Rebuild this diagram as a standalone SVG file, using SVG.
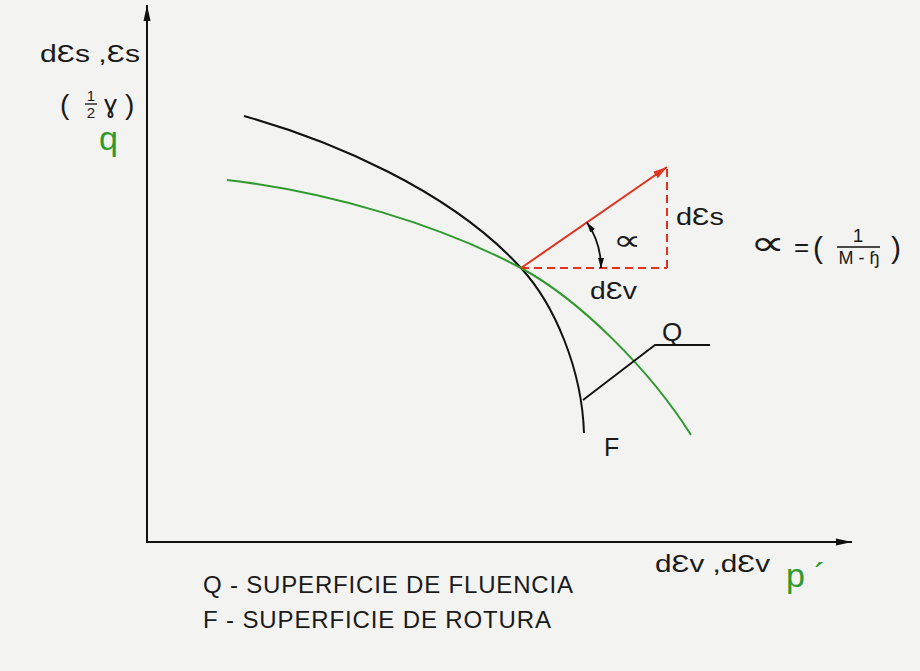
<svg xmlns="http://www.w3.org/2000/svg" width="920" height="671" viewBox="0 0 920 671">
<style>
text{font-family:"Liberation Sans",Arial,sans-serif;fill:#1a1a1a}
.g{fill:#2e9a2e}
.dj{font-family:"DejaVu Sans",sans-serif}
.ax{stroke:#111;stroke-width:2;fill:none}
.crv{fill:none;stroke-width:2}
.red{stroke:#e0321e;stroke-width:2;fill:none}
</style>
<defs>
<marker id="axh" viewBox="0 0 16 8" refX="16" refY="4" markerWidth="16" markerHeight="8" markerUnits="userSpaceOnUse" orient="auto">
<path d="M0,0.5 L16,4 L0,7.5 Z" fill="#111"/>
</marker>
<marker id="rh" viewBox="0 0 14 8" refX="14" refY="4" markerWidth="14" markerHeight="8" markerUnits="userSpaceOnUse" orient="auto">
<path d="M0,0 L14,4 L0,8 Z" fill="#e0321e"/>
</marker>
<marker id="ah" viewBox="0 0 10 6" refX="10" refY="3" markerWidth="10" markerHeight="6" markerUnits="userSpaceOnUse" orient="auto">
<path d="M0,0 L10,3 L0,6 Z" fill="#111"/>
</marker>
<marker id="ahs" viewBox="0 0 10 6" refX="0" refY="3" markerWidth="10" markerHeight="6" markerUnits="userSpaceOnUse" orient="auto">
<path d="M10,0 L0,3 L10,6 Z" fill="#111"/>
</marker>
</defs>
<rect width="920" height="671" fill="#f3f3f1"/>
<g id="axes">
<line class="ax" x1="147" y1="543" x2="147" y2="5" marker-end="url(#axh)"/>
<line class="ax" x1="146" y1="542" x2="852" y2="542" marker-end="url(#axh)"/>
</g>
<g id="curve-F">
<path class="crv" stroke="#111" d="M244,116 C330,140 450,190 521,268 C555,305 582,370 584,433"/>
<text x="604" y="456" font-size="25">F</text>
</g>
<g id="curve-Q">
<path class="crv" stroke="#2e9a2e" stroke-width="3" d="M227,180 C330,192 440,225 521,268 C580,300 650,370 691,435"/>
<text x="662" y="341" font-size="26">Q</text>
</g>
<g id="connectors">
<polyline fill="none" stroke="#111" stroke-width="1.8" points="583,400 655,345 710,345"/>
<line class="red" x1="521" y1="268" x2="667" y2="167" marker-end="url(#rh)"/>
<line class="red" x1="521" y1="268" x2="667" y2="268" stroke-dasharray="8,5"/>
<line class="red" x1="667" y1="268" x2="667" y2="167" stroke-dasharray="8,5"/>
<path d="M587,222.5 A80,80 0 0 1 601,268" fill="none" stroke="#111" stroke-width="1.8" marker-start="url(#ahs)" marker-end="url(#ah)"/>
</g>
<g id="labels">
<text class="dj" transform="translate(613,250) scale(1.8,1.3)" font-size="22">∝</text>
<text x="676" y="225" font-size="23" textLength="48" lengthAdjust="spacingAndGlyphs">dƐs</text>
<text x="590" y="299" font-size="23" textLength="47" lengthAdjust="spacingAndGlyphs">dƐv</text>
<text class="dj" transform="translate(750,255) scale(1.9,1.35)" font-size="26">∝</text>
<text x="794" y="256" font-size="26">=</text>
<text x="813" y="258" font-size="30">(</text>
<text x="858" y="242" font-size="19" text-anchor="middle">1</text>
<line x1="837" y1="247" x2="880" y2="247" stroke="#111" stroke-width="1.6"/>
<text x="859" y="264" font-size="18" text-anchor="middle">M - ɧ</text>
<text x="891" y="258" font-size="30">)</text>
<text x="40" y="62" font-size="23" textLength="100" lengthAdjust="spacingAndGlyphs">dƐs ,Ɛs</text>
<text x="60" y="114" font-size="28">(</text>
<text x="91" y="101" font-size="15" text-anchor="middle">1</text>
<line x1="85" y1="104" x2="97" y2="104" stroke="#111" stroke-width="1.3"/>
<text x="91" y="118" font-size="15" text-anchor="middle">2</text>
<text x="104" y="113" font-size="26">ɣ</text>
<text x="125" y="114" font-size="28">)</text>
<text class="g" x="99" y="150" font-size="34">q</text>
<text x="655" y="572" font-size="23" textLength="115" lengthAdjust="spacingAndGlyphs">dƐv ,dƐv</text>
<text class="g" x="786" y="587" font-size="34">p ´</text>
<text x="203" y="593" font-size="24" textLength="370" lengthAdjust="spacing">Q - SUPERFICIE DE FLUENCIA</text>
<text x="203" y="628" font-size="24" textLength="348" lengthAdjust="spacing">F - SUPERFICIE DE ROTURA</text>
</g>
</svg>
